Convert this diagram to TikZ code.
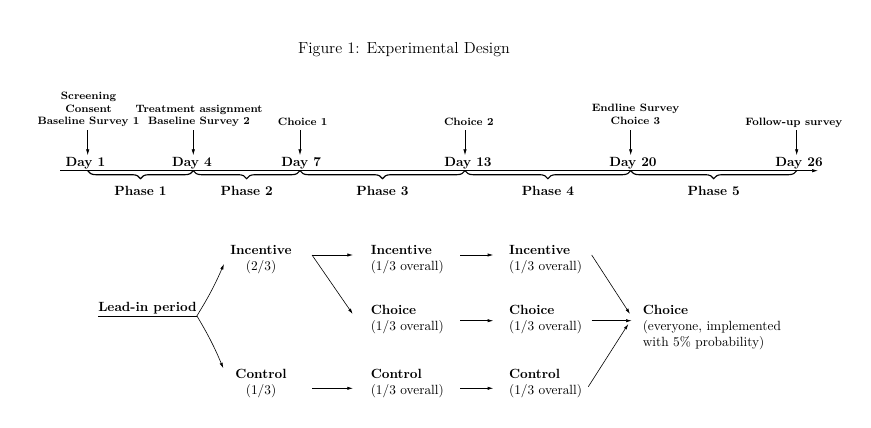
\documentclass[tikz,border=0pt]{standalone}
\usetikzlibrary{arrows.meta,decorations.pathreplacing,calc}
\begin{document}
\begin{tikzpicture}[x=0.75pt,y=-0.75pt,
  titlefont/.style={font=\fontsize{12}{14.5}\selectfont},
  dayl/.style={font=\normalsize\bfseries, anchor=base, inner sep=1pt},
  evl/.style={font=\footnotesize\bfseries, align=center, inner sep=0pt},
  phasel/.style={font=\normalsize\bfseries, anchor=base, inner sep=0pt},
  tarr/.style={line width=0.5pt, -{Latex[length=4.5pt,width=2.6pt]}},
  axisl/.style={line width=0.55pt, -{Latex[length=4.5pt,width=2.6pt]}},
  bracel/.style={line width=0.85pt, decorate, decoration={brace, mirror, amplitude=6pt}},
  grp/.style={inner sep=0pt, anchor=north, align=center},
  grpl/.style={inner sep=0pt, anchor=north west, align=left},
  larr/.style={line width=0.45pt, -{Latex[length=4.2pt,width=2.4pt]}}
]
\useasboundingbox (0,0) rectangle (871,428);

% title
\node[titlefont, anchor=base] (title) at (404,53.3) {Figure 1: Experimental Design};

% timeline ticks
\coordinate (axs) at (60,170.7);
\coordinate (axe) at (818,170.7);
\coordinate (t1) at (87.7,170.7);
\coordinate (t4) at (193.3,170.7);
\coordinate (t7) at (300,170.7);
\coordinate (t13) at (465,170.7);
\coordinate (t20) at (630.7,170.7);
\coordinate (t26) at (796.7,170.7);

\draw[axisl] (axs) -- (axe);

% day labels
\node[dayl] (d1) at (85.4,166) {Day 1};
\node[dayl] (d4) at (192,166) {Day 4};
\node[dayl] (d7) at (301.2,166) {Day 7};
\node[dayl] (d13) at (468,166) {Day 13};
\node[dayl] (d20) at (633,166) {Day 20};
\node[dayl] (d26) at (799,166) {Day 26};

% event labels
\node[evl, anchor=south] (l1) at (88.5,127.1) {Screening\\Consent\\Baseline Survey 1};
\node[evl, anchor=south] (l2) at (199,127.1) {Treatment assignment\\Baseline Survey 2};
\node[evl, anchor=base] (l3) at (302.7,125) {Choice 1};
\node[evl, anchor=base] (l4) at (468.8,125) {Choice 2};
\node[evl, anchor=south] (l5) at (635.5,125) {Endline Survey\\Choice 3};
\node[evl, anchor=base] (l6) at (793.8,125) {Follow-up survey};

\draw[tarr] ($(l1.south -| t1)+(0,3)$) -- (d1.north -| t1);
\draw[tarr] ($(l2.south -| t4)+(0,3)$) -- (d4.north -| t4);
\draw[tarr] ($(l3.south -| t7)+(0,5)$) -- (d7.north -| t7);
\draw[tarr] ($(l4.south -| t13)+(0,5)$) -- (d13.north -| t13);
\draw[tarr] ($(l5.south -| t20)+(0,5)$) -- (d20.north -| t20);
\draw[tarr] ($(l6.south -| t26)+(0,3)$) -- (d26.north -| t26);

% braces and phases
\draw[bracel] (t1) -- (t4);
\draw[bracel] (t4) -- (t7);
\draw[bracel] (t7) -- (t13);
\draw[bracel] (t13) -- (t20);
\draw[bracel] (t20) -- (t26);
\node[phasel] (p1) at (140.5,195) {Phase 1};
\node[phasel] (p2) at (246.7,195) {Phase 2};
\node[phasel] (p3) at (382.5,195) {Phase 3};
\node[phasel] (p4) at (547.9,195) {Phase 4};
\node[phasel] (p5) at (713.7,195) {Phase 5};

% lower diagram
\node[font=\bfseries, anchor=base west, inner xsep=0pt, inner ysep=1pt] (lead) at (98,311.7) {Lead-in period};
\draw[line width=0.5pt] (lead.south west) -- (lead.south east);

\node[grp] (c1i) at (261,244.8) {\textbf{Incentive}\\(2/3)};
\node[grp] (c1c) at (261,368.8) {\textbf{Control}\\(1/3)};

\node[grpl] (c2i) at (370.5,244.8) {\textbf{Incentive}\\(1/3 overall)};
\node[grpl] (c2ch) at (370.5,304.8) {\textbf{Choice}\\(1/3 overall)};
\node[grpl] (c2c) at (370.5,368.8) {\textbf{Control}\\(1/3 overall)};

\node[grpl] (c3i) at (508.8,244.8) {\textbf{Incentive}\\(1/3 overall)};
\node[grpl] (c3ch) at (508.8,304.8) {\textbf{Choice}\\(1/3 overall)};
\node[grpl] (c3c) at (508.8,368.8) {\textbf{Control}\\(1/3 overall)};

\node[grpl] (fin) at (642.5,304.8) {\textbf{Choice}\\(everyone, implemented\\with 5\% probability)};

% branches from lead-in
\draw[larr] (lead.south east) to[bend right=4] ($(c1i.north)+(-37,19.2)$);
\draw[larr] (lead.south east) to[bend left=4] ($(c1c.north)+(-37.7,-0.5)$);

% column 1 -> column 2
\draw[larr] ($(c1i.north)+(51,10.2)$) -- ($(c2i.north west)+(-17.5,10.2)$);
\draw[larr] ($(c1i.north)+(51,10.2)$) -- ($(c2ch.north west)+(-17.8,9.2)$);
\draw[larr] ($(c1c.north)+(51,19.5)$) -- ($(c2c.north west)+(-17.5,19.5)$);

% column 2 -> column 3
\draw[larr] ($(c2i.north west)+(89.5,10.2)$) -- ($(c3i.north west)+(-15.5,10.2)$);
\draw[larr] ($(c2ch.north west)+(89.5,15.9)$) -- ($(c3ch.north west)+(-15.5,15.9)$);
\draw[larr] ($(c2c.north west)+(89.5,19.5)$) -- ($(c3c.north west)+(-15.5,19.5)$);

% column 3 -> final
\draw[larr] ($(c3i.north west)+(82.9,10.2)$) -- ($(fin.north west)+(-12.5,9.2)$);
\draw[larr] ($(c3ch.north west)+(82.9,15.9)$) -- ($(fin.north west)+(-10.8,15.9)$);
\draw[larr] ($(c3c.north west)+(79.5,17.9)$) -- ($(fin.north west)+(-14.2,19.2)$);
\end{tikzpicture}
\end{document}
